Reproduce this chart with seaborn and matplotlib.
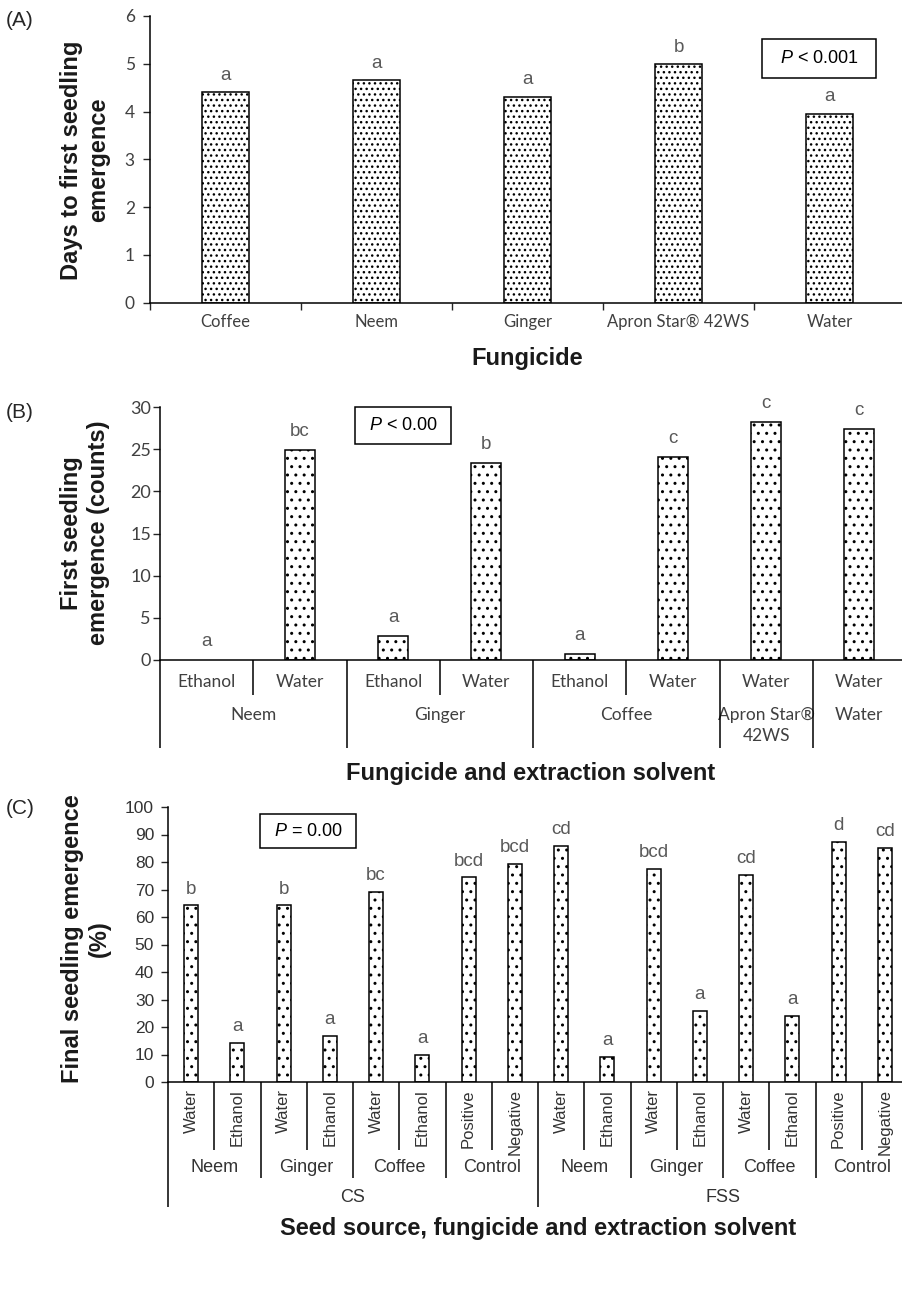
import matplotlib
matplotlib.use("Agg")
import matplotlib.pyplot as plt
from matplotlib import transforms
from matplotlib.lines import Line2D
from matplotlib.patches import Rectangle
import numpy as np
import seaborn as sns

W, H = 903, 1312

# ---- (A) days to first seedling emergence ----
fungicides_a = ["Coffee", "Neem", "Ginger", "Apron Star® 42WS", "Water"]
days_a = [4.40, 4.65, 4.31, 4.99, 3.95]
letters_a = ["a", "a", "a", "b", "a"]

# ---- (B) first seedling emergence counts ----
solvents_b = ["Ethanol", "Water", "Ethanol", "Water", "Ethanol", "Water", "Water", "Water"]
groups_b = ["Neem", "Ginger", "Coffee", "Apron Star®\n42WS", "Water"]
group_sizes_b = [2, 2, 2, 1, 1]
counts_b = [0.0, 24.9, 2.9, 23.4, 0.7, 24.1, 28.2, 27.4]
letters_b = ["a", "bc", "a", "b", "a", "c", "c", "c"]

# ---- (C) final seedling emergence (%) ----
solvents_c = ["Water", "Ethanol", "Water", "Ethanol", "Water", "Ethanol", "Positive", "Negative",
              "Water", "Ethanol", "Water", "Ethanol", "Water", "Ethanol", "Positive", "Negative"]
groups_c = ["Neem", "Ginger", "Coffee", "Control", "Neem", "Ginger", "Coffee", "Control"]
sources_c = ["CS", "FSS"]
emergence_c = [64.2, 14.2, 64.2, 16.7, 69.2, 10.0, 74.4, 79.3,
               85.8, 9.2, 77.6, 25.8, 75.2, 24.1, 87.4, 85.2]
letters_c = ["b", "a", "b", "a", "bc", "a", "bcd", "bcd",
             "cd", "a", "bcd", "a", "cd", "a", "d", "cd"]

sns.set_style("white")
plt.rcParams["font.family"] = ["Liberation Sans", "DejaVu Sans"]
plt.rcParams["mathtext.fontset"] = "custom"
plt.rcParams["mathtext.rm"] = "Liberation Sans"
plt.rcParams["mathtext.it"] = "Liberation Sans:italic"
plt.rcParams["hatch.linewidth"] = 1.0

fig = plt.figure(figsize=(W / 100, H / 100), dpi=100)


def fx(px):
    return px / W


def fy(px):
    return 1 - px / H


def add_axes(left, top, right, bottom):
    return fig.add_axes([fx(left), fy(bottom), (right - left) / W, (bottom - top) / H])


def vline(ax, x, top_px, bottom_px):
    tr = transforms.blended_transform_factory(ax.transData, fig.transFigure)
    fig.add_artist(Line2D([x, x], [fy(top_px), fy(bottom_px)], transform=tr,
                          color="black", lw=1.1, solid_capstyle="butt"))


def xtext(ax, x, px, s, **kw):
    tr = transforms.blended_transform_factory(ax.transData, fig.transFigure)
    ax.text(x, fy(px), s, transform=tr, ha="center", clip_on=False, **kw)


def bars(ax, values, letters, width, hatch, lift):
    n = len(values)
    sns.barplot(x=np.arange(n), y=values, color="white", saturation=1,
                edgecolor="black", linewidth=1.1, width=width, ax=ax)
    for p in ax.patches:
        p.set_hatch(hatch)
        if p.get_height() == 0:
            p.set_visible(False)
    for i, (v, s) in enumerate(zip(values, letters)):
        ax.annotate(s, (i, v), xytext=(0, lift), textcoords="offset points",
                    ha="center", va="baseline", fontsize=13.5, color="#595959")
    ax.set_xlim(-0.5, n - 0.5)
    sns.despine(ax=ax)
    for sp in ["left", "bottom"]:
        ax.spines[sp].set_color("black")
        ax.spines[sp].set_linewidth(1.1)
    ax.set_xlabel("")
    ax.set_ylabel("")


def pbox(left, top, right, bottom, s):
    fig.add_artist(Rectangle((fx(left), fy(bottom)), (right - left) / W, (bottom - top) / H,
                             transform=fig.transFigure, fill=False, edgecolor="black", lw=1.1))
    fig.text(fx((left + right) / 2), fy((top + bottom) / 2), s, ha="center", va="center",
             fontsize=13, color="black")


label_kw = dict(fontsize=17, fontweight="bold", color="#1a1a1a")
calibri = ["Lato", "DejaVu Sans"]

# ---------------- panel A ----------------
ax_a = add_axes(150, 16, 905, 302.5)
bars(ax_a, days_a, letters_a, 0.31, "...", 9)
ax_a.set_ylim(0, 6)
ax_a.set_yticks(range(0, 7))
ax_a.set_xticks(range(len(fungicides_a)))
ax_a.set_xticklabels(fungicides_a)
ax_a.set_xticks(np.arange(-0.5, len(fungicides_a)), minor=True)
ax_a.tick_params(axis="x", which="major", length=0, pad=8, labelsize=12, labelcolor="#404040")
ax_a.tick_params(axis="x", which="minor", length=5, width=1, direction="out", bottom=True)
ax_a.tick_params(axis="y", length=5, width=1, direction="out", left=True, pad=6,
                 labelsize=12.5, labelcolor="#404040")
for lab in ax_a.get_xticklabels() + ax_a.get_yticklabels():
    lab.set_family(calibri)
fig.text(fx(20), fy(20), "(A)", ha="center", va="center", fontsize=15)
fig.text(fx(85), fy(160), "Days to first seedling\nemergence", rotation=90,
         ha="center", va="center", multialignment="center", linespacing=1.2, **label_kw)
fig.text(fx(527), fy(358), "Fungicide", ha="center", va="center", **label_kw)
pbox(762, 39, 876, 78, r"$P$ < 0.001")

# ---------------- panel B ----------------
ax_b = add_axes(160, 407, 906, 660)
bars(ax_b, counts_b, letters_b, 0.32, "..", 10)
ax_b.set_ylim(0, 30)
ax_b.set_yticks(range(0, 31, 5))
ax_b.set_xticks([])
ax_b.tick_params(axis="y", length=5, width=1, direction="out", left=True, pad=1.5,
                 labelsize=13, labelcolor="#404040")
for lab in ax_b.get_yticklabels():
    lab.set_family(calibri)
for i, s in enumerate(solvents_b):
    xtext(ax_b, i, 682, s, va="center", fontsize=12.5, color="#404040", family=calibri)
start = 0
for g, size in zip(groups_b, group_sizes_b):
    vline(ax_b, start - 0.5, 660, 748)
    for k in range(1, size):
        vline(ax_b, start + k - 0.5, 660, 695)
    xtext(ax_b, start + (size - 1) / 2, 707, g, va="top", fontsize=12.5, color="#404040",
          family=calibri, linespacing=1.35)
    start += size
fig.text(fx(20), fy(413), "(B)", ha="center", va="center", fontsize=15)
fig.text(fx(85), fy(533), "First seedling\nemergence (counts)", rotation=90,
         ha="center", va="center", multialignment="center", linespacing=1.2, **label_kw)
fig.text(fx(531), fy(773), "Fungicide and extraction solvent", ha="center", va="center", **label_kw)
pbox(355, 407, 451, 444, r"$P$ < 0.00")

# ---------------- panel C ----------------
ax_c = add_axes(168, 807, 908, 1082)
bars(ax_c, emergence_c, letters_c, 0.30, "..", 8.5)
ax_c.set_ylim(0, 100)
ax_c.set_yticks(range(0, 101, 10))
ax_c.set_xticks([])
ax_c.tick_params(axis="y", length=5, width=1, direction="out", left=True, pad=5,
                 labelsize=12.5, labelcolor="#333333")
for i, s in enumerate(solvents_c):
    xtext(ax_c, i, 1089, s, va="top", rotation=90, fontsize=12, color="#333333")
    if i % 2 == 1:
        vline(ax_c, i - 0.5, 1082, 1150)
for j, g in enumerate(groups_c):
    x0 = 2 * j
    if j % 4 == 0:
        vline(ax_c, x0 - 0.5, 1082, 1207)
    else:
        vline(ax_c, x0 - 0.5, 1082, 1178)
    xtext(ax_c, x0 + 0.5, 1168, g, va="center", fontsize=13, color="#333333")
for k, s in enumerate(sources_c):
    xtext(ax_c, 8 * k + 3.5, 1197, s, va="center", fontsize=13, color="#333333")
fig.text(fx(20), fy(808), "(C)", ha="center", va="center", fontsize=15)
fig.text(fx(86), fy(939), "Final seedling emergence\n(%)", rotation=90,
         ha="center", va="center", multialignment="center", linespacing=1.2, **label_kw)
fig.text(fx(538), fy(1229), "Seed source, fungicide and extraction solvent",
         ha="center", va="center", **label_kw)
pbox(260, 814, 356, 848, r"$P$ = 0.00")

fig.savefig("out.png", dpi=100, facecolor="white")
